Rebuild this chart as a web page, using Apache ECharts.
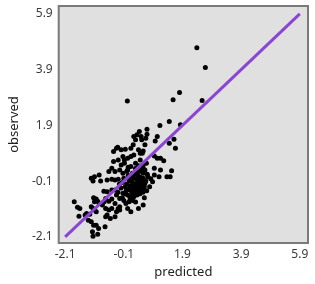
<!DOCTYPE html>
<html>
<head>
<meta charset="utf-8">
<script src="https://cdn.jsdelivr.net/npm/echarts@6/dist/echarts.min.js"></script>
<style>html,body{margin:0;padding:0;background:#fff}#c{width:315px;height:284px}</style>
</head>
<body>
<div id="c"></div>
<script>
var tickLabels = [-2.1, -0.1, 1.9, 3.9, 5.9];
var predicted = [
  2.39, 2.68, 1.80, 1.58, 2.57, 0.02, 1.45, 1.83, 1.61, 1.13, 0.69, 0.69, 1.04, 0.97, 1.45, 1.66, 0.49, 0.65, 0.62, 0.56, 0.53, 0.94, 1.04, 1.15,
  0.43, 0.35, 0.24, 0.30, 0.51, 0.22, 0.14, 0.40, 0.46, -0.45, -0.35, -0.45, -0.29, -0.13, -0.08, 0.03, 0.14, 0.24, -0.19, -0.08, -0.24, -0.40, -0.61, -0.51, -0.94, -1.10, -0.13, 0.03, 0.14, 0.30, 0.46, 0.19, 0.56, 0.67,
  0.94, 1.15, 1.53, 1.48, 0.94, 0.88, 0.62, 0.56, 0.56, 0.62, 0.56,
  1.10, 0.82, 0.72, 0.51, 1.37, -0.13, 0.03, 0.24, 0.08, -0.03, 0.03, -0.40, -0.24, -0.35, -0.24, -0.40, 0.14, 0.40, 0.56, -0.51, -0.24, -0.35,
  -1.21, -1.15, -0.89, -0.67, -0.51, -0.40, -0.29, -0.78, -0.67, -0.51, -0.40, -1.13, -1.04, -1.79, -1.68, -1.60, -1.10, -0.99, -0.94, -0.83, -0.77, -0.72, -0.61, -0.51,
  -1.21, -1.15, -1.10, -1.04, -1.37, -1.42, -1.26, -0.72, -0.61, -0.67, -0.29, -0.56, -0.72, -1.31, -1.21, -1.13, -1.04, -0.96, -0.74, -1.15, -0.99, -1.17, -1.63,
  -0.31, -0.05, -0.19, 1.26, 0.56,
  0.05, 0.15, 0.25, 0.35, 0.45, 0.10, 0.20, 0.30, 0.40, 0.50, 0.00, 0.12, 0.22, 0.32, 0.42, 0.05, 0.15, 0.28, 0.38, 0.48, -0.05, -0.15, -0.10, 0.60,
  0.25, 0.35, 0.45, 0.30, 0.18, 0.35, 0.10, 0.45, 0.55, 0.65, 0.70, 0.78, -0.20, -0.25, 0.00, -0.05, -0.15, 0.20, 0.30, -0.10, 0.05, 0.40, 0.50,
  0.20, 0.33, 0.08, 0.27, 0.52, 0.38, -0.02, 0.60, 0.12, -0.30, 0.68, 0.43
];
var observed = [
  4.68, 3.97, 3.08, 2.82, 2.79, 2.77, 2.04, 1.92, 1.40, 1.89, 1.76, 1.58, 1.50, 1.34, 1.26, 1.08, 1.50, 1.44, 1.20, 0.98, 0.90, 0.80, 0.72, 0.72,
  1.68, 1.56, 1.50, 1.38, 1.38, 1.20, 1.08, 1.02, 0.90, 0.96, 1.08, 0.60, 0.66, 0.78, 0.66, 0.72, 0.78, 0.84, 0.48, 0.54, 0.30, 0.24, 0.24, 0.36, 0.12, 0.06, 0.18, 0.30, 0.42, 0.54, 0.66, 0.18, 0.36, 0.54,
  0.36, 0.30, 0.27, 0.06, 0.12, -0.12, -0.18, 0.00, 0.48, 0.30, 0.18,
  0.06, -0.02, 0.06, -0.24, 0.06, -0.54, -0.60, -0.66, -0.84, -0.90, -1.08, -0.90, -1.02, -1.20, -1.14, -1.38, -1.20, -1.08, -0.96, -1.08, -0.72, -0.60,
  0.00, -0.10, -0.10, -0.06, -0.03, -0.06, -0.03, -0.46, -0.48, -0.42, -0.42, -0.70, -0.74, -0.84, -1.04, -1.08, -0.84, -0.82, -0.90, -0.96, -0.84, -0.72, -0.82, -0.74,
  -1.02, -1.08, -1.14, -1.20, -1.26, -1.32, -1.29, -1.08, -1.14, -1.32, -1.08, -1.44, -1.38, -1.50, -1.56, -1.68, -1.68, -1.80, -1.74, -2.08, -2.01, -1.92, -1.36,
  1.11, 1.04, 1.02, 0.63, -0.42,
  0.10, 0.05, 0.00, -0.05, 0.05, -0.10, -0.15, -0.20, -0.10, -0.15, -0.20, -0.28, -0.35, -0.30, -0.32, -0.40, -0.45, -0.48, -0.45, -0.40, -0.30, -0.15, 0.00, -0.30,
  0.15, 0.20, 0.25, 0.35, -0.55, -0.60, -0.65, -0.55, -0.50, -0.10, 0.15, -0.30, -0.35, -0.20, 0.25, -0.55, -0.70, -0.80, -0.85, -0.80, 0.40, 0.45, 0.30,
  -0.25, -0.38, -0.05, -0.58, -0.02, 0.10, -0.45, -0.70, -0.75, -0.50, -0.45, -0.20
];
var lineX = [-2.1, 5.9];
var lineY = [-2.1, 5.9];

var points = predicted.map(function (p, i) { return [p, observed[i]]; });
var linePts = lineX.map(function (p, i) { return [p, lineY[i]]; });

var chart = echarts.init(document.getElementById('c'), null, { renderer: 'canvas' });
var font = 'Noto Sans';
function axis(name, gap, rot) {
  return {
    type: 'value', min: -2.32, max: 6.18,
    name: name, nameLocation: 'middle', nameGap: gap, nameRotate: rot,
    nameTextStyle: { fontFamily: font, fontSize: 13, color: '#222' },
    axisLine: { show: false }, axisTick: { show: false }, splitLine: { show: false },
    axisLabel: { customValues: tickLabels, fontFamily: font, fontSize: 12, color: '#3a3a3a', margin: 6,
      formatter: function (v) { return String(Math.round(v * 10) / 10); } }
  };
}
chart.setOption({
  animation: false,
  backgroundColor: '#fff',
  grid: { left: 44, top: 6, right: 7, bottom: 41, show: true, backgroundColor: '#e0e0e0', borderColor: '#7a7a7a', borderWidth: 2 },
  xAxis: axis('predicted', 21, 0),
  yAxis: axis('observed', 27, 90),
  series: [
    { type: 'scatter', data: points, symbolSize: 5, itemStyle: { color: '#000', opacity: 1 }, z: 2 },
    { type: 'line', data: linePts, showSymbol: false, lineStyle: { color: '#8c45d2', width: 3 }, z: 3 }
  ]
});
</script>
</body>
</html>
